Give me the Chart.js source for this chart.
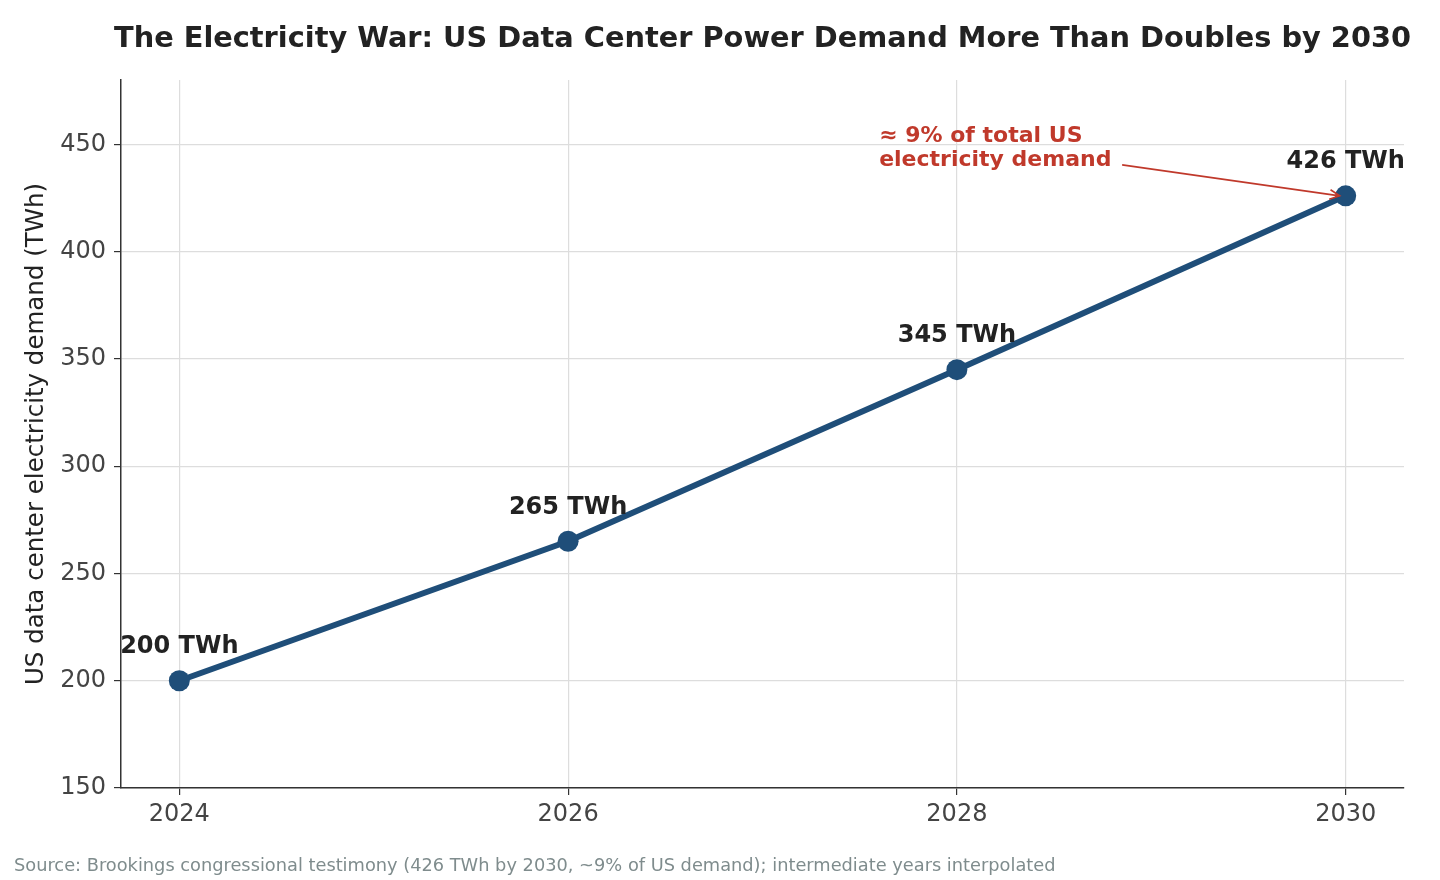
<!DOCTYPE html>
<html>
<head>
<meta charset="utf-8">
<script src="https://cdn.jsdelivr.net/npm/chart.js@4"></script>
<style>
  html, body { margin: 0; padding: 0; background: #fff; }
  #wrap { width: 1440px; height: 880px; }
</style>
</head>
<body>
<div id="wrap"><canvas id="demandChart" width="1440" height="880"></canvas></div>
<script>
const years = [2024, 2026, 2028, 2030];
const demandTWh = [200, 265, 345, 426];
const yearTicks = [2024, 2026, 2028, 2030];
const demandTicks = [150, 200, 250, 300, 350, 400, 450];

const chartTitle = 'The Electricity War: US Data Center Power Demand More Than Doubles by 2030';
const yTitle = 'US data center electricity demand (TWh)';
const noteLines = ['\u2248 9% of total US', 'electricity demand'];
const sourceNote = 'Source: Brookings congressional testimony (426 TWh by 2030, ~9% of US demand); intermediate years interpolated';

const FONT = "'DejaVu Sans', sans-serif";

const extras = {
    id: 'extras',
    afterDatasetsDraw(chart) {
        const { ctx, chartArea, scales: { x, y } } = chart;
        ctx.save();

        // title
        ctx.fillStyle = '#222';
        ctx.font = `bold 28.8px ${FONT}`;
        ctx.textAlign = 'center';
        ctx.textBaseline = 'middle';
        ctx.fillText(chartTitle, (chartArea.left + chartArea.right) / 2, 40);

        // value labels
        ctx.font = `bold 24px ${FONT}`;
        years.forEach((yr, i) => {
            ctx.fillText(`${demandTWh[i]} TWh`, x.getPixelForValue(yr), y.getPixelForValue(demandTWh[i]) - 34);
        });

        // annotation
        const last = years.length - 1;
        const px = x.getPixelForValue(years[last]);
        const py = y.getPixelForValue(demandTWh[last]);
        const tx = x.getPixelForValue(2027.6);
        ctx.fillStyle = '#c0392b';
        ctx.font = `bold 22px ${FONT}`;
        ctx.textAlign = 'left';
        ctx.fillText(noteLines[0], tx, py - 60);
        ctx.fillText(noteLines[1], tx, py - 36);

        const sx = tx + 243, sy = py - 31;
        const ex = px - 6, ey = py;
        ctx.strokeStyle = '#c0392b';
        ctx.lineWidth = 1.6;
        ctx.beginPath();
        ctx.moveTo(sx, sy);
        ctx.lineTo(ex, ey);
        const ang = Math.atan2(ey - sy, ex - sx);
        ctx.moveTo(ex - 11 * Math.cos(ang - 0.45), ey - 11 * Math.sin(ang - 0.45));
        ctx.lineTo(ex, ey);
        ctx.lineTo(ex - 11 * Math.cos(ang + 0.45), ey - 11 * Math.sin(ang + 0.45));
        ctx.stroke();

        // source
        ctx.fillStyle = '#7f8c8d';
        ctx.font = `17.8px ${FONT}`;
        ctx.fillText(sourceNote, 14, 866);
        ctx.restore();
    }
};

new Chart(document.getElementById('demandChart').getContext('2d'), {
    type: 'line',
    data: {
        datasets: [{
            data: years.map((yr, i) => ({ x: yr, y: demandTWh[i] })),
            borderColor: '#1f4e79',
            backgroundColor: '#1f4e79',
            borderWidth: 6,
            pointRadius: 10.5,
            pointHoverRadius: 10.5,
            pointBorderWidth: 0,
            tension: 0
        }]
    },
    options: {
        responsive: false,
        animation: false,
        layout: { padding: { top: 80, right: 36, left: 0, bottom: 0 } },
        plugins: {
            legend: { display: false },
            title: { display: false },
            tooltip: { enabled: false }
        },
        scales: {
            x: {
                type: 'linear',
                min: 2023.7,
                max: 2030.3,
                afterBuildTicks: s => { s.ticks = yearTicks.map(v => ({ value: v })); },
                afterFit: s => { s.height = 92; },
                grid: { color: '#dddddd', lineWidth: 1.2, tickColor: '#333', tickLength: 7 },
                border: { color: '#333', width: 1.5 },
                ticks: {
                    color: '#444',
                    font: { family: FONT, size: 24 },
                    padding: 5,
                    callback: v => String(v)
                }
            },
            y: {
                min: 150,
                max: 480,
                afterBuildTicks: s => { s.ticks = demandTicks.map(v => ({ value: v })); },
                afterFit: s => { s.width = 121; },
                grid: { color: '#dddddd', lineWidth: 1.2, tickColor: '#333', tickLength: 7 },
                border: { color: '#333', width: 1.5 },
                ticks: {
                    color: '#444',
                    font: { family: FONT, size: 24 },
                    padding: 8
                },
                title: {
                    display: true,
                    text: yTitle,
                    color: '#222',
                    font: { family: FONT, size: 24.5 },
                    padding: { top: 22, bottom: 4 }
                }
            }
        }
    },
    plugins: [extras]
});
</script>
</body>
</html>
